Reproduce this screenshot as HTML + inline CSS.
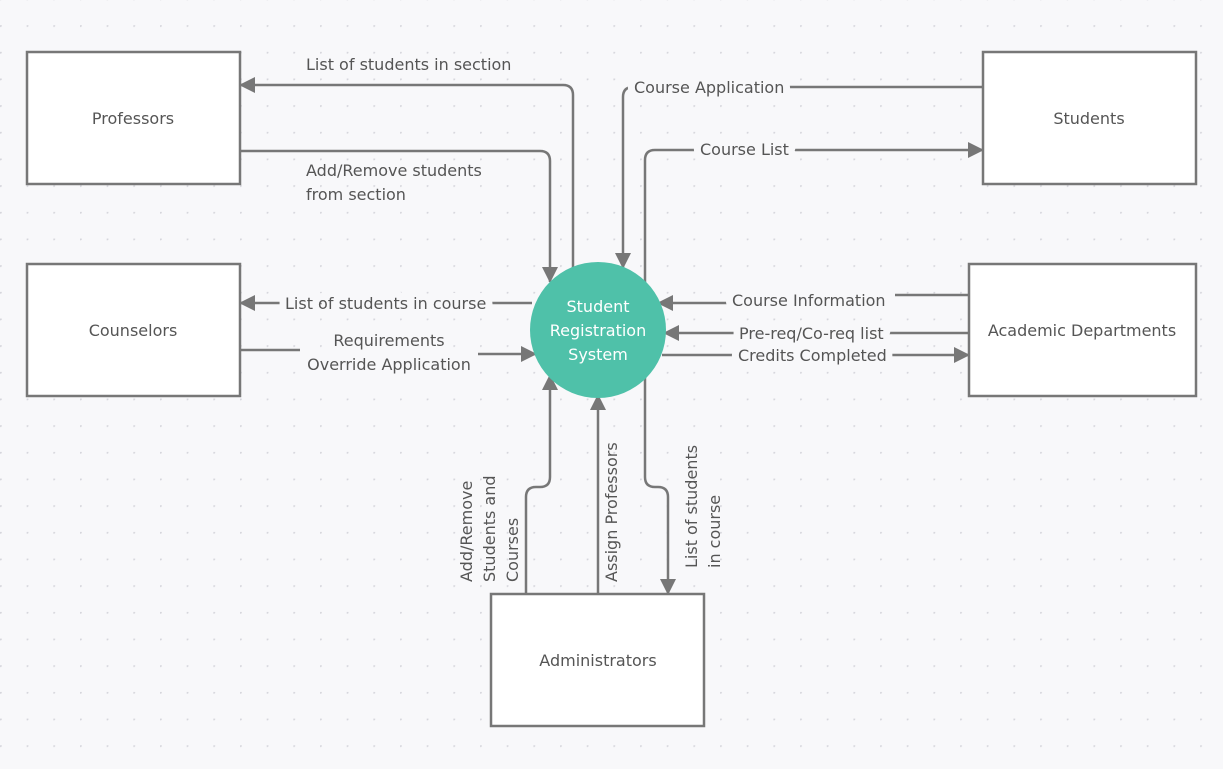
<!DOCTYPE html>
<html><head><meta charset="utf-8"><style>
html,body{margin:0;padding:0;background:#f8f8fa}
svg{display:block}
text{font-family:"DejaVu Sans","Liberation Sans",sans-serif;font-size:16px;fill:#555}
.h{stroke:#f8f8fa;stroke-width:14px;paint-order:stroke;stroke-linejoin:round}
</style></head><body>
<svg width="1223" height="769" viewBox="0 0 1223 769" xmlns="http://www.w3.org/2000/svg">
<defs>
<pattern id="dots" x="0" y="-1.5" width="26.67" height="26.67" patternUnits="userSpaceOnUse">
<circle cx="0.5" cy="0.5" r="1.3" fill="#d6d6dc"/>
</pattern>
<marker id="a" viewBox="0 0 16 16" refX="15" refY="8" markerWidth="16" markerHeight="16" orient="auto" markerUnits="userSpaceOnUse">
<path d="M0,0 L16,8 L0,16 z" fill="#777"/>
</marker>
</defs>
<rect width="1223" height="769" fill="#f8f8fa"/>
<rect width="1223" height="769" fill="url(#dots)"/>

<g fill="none" stroke="#777" stroke-width="2.5">
<path d="M573,268 V95 Q573,85 563,85 H240" marker-end="url(#a)"/>
<path d="M238,151 H540 Q550,151 550,161 V282" marker-end="url(#a)"/>
<path d="M983,87 H633 Q623,87 623,97 V268" marker-end="url(#a)"/>
<path d="M645,282 V160 Q645,150 655,150 H983" marker-end="url(#a)"/>
<path d="M532,303 H240" marker-end="url(#a)"/>
<path d="M240,350 H300"/>
<path d="M478,354 H536" marker-end="url(#a)"/>
<path d="M969,295 H895"/>
<path d="M730,303 H658" marker-end="url(#a)"/>
<path d="M969,333 H664" marker-end="url(#a)"/>
<path d="M662,355 H969" marker-end="url(#a)"/>
<path d="M526,594 V497 Q526,487 536,487 H540 Q550,487 550,477 V375" marker-end="url(#a)"/>
<path d="M598,594 V395" marker-end="url(#a)"/>
<path d="M645,375 V477 Q645,487 655,487 H658 Q668,487 668,497 V594" marker-end="url(#a)"/>
</g>

<g fill="#fff" stroke="#777" stroke-width="2.5">
<rect x="27" y="52" width="213" height="132"/>
<rect x="983" y="52" width="213" height="132"/>
<rect x="27" y="264" width="213" height="132"/>
<rect x="969" y="264" width="227" height="132"/>
<rect x="491" y="594" width="213" height="132"/>
</g>
<circle cx="598" cy="330" r="68" fill="#4fc1a9"/>

<g text-anchor="middle">
<text x="133" y="124">Professors</text>
<text x="1089" y="124">Students</text>
<text x="133" y="336">Counselors</text>
<text x="1082" y="336">Academic Departments</text>
<text x="598" y="666">Administrators</text>
<text x="598" y="312" style="fill:#fff">Student</text>
<text x="598" y="336" style="fill:#fff">Registration</text>
<text x="598" y="360" style="fill:#fff">System</text>
<text class="h" x="389" y="346">Requirements</text>
<text class="h" x="389" y="370">Override Application</text>
</g>
<text x="306" y="70">List of students in section</text>
<text x="306" y="176">Add/Remove students</text>
<text x="306" y="200">from section</text>
<text class="h" x="634" y="93">Course Application</text>
<text class="h" x="700" y="155">Course List</text>
<text class="h" x="285" y="309">List of students in course</text>
<text class="h" x="732" y="306">Course Information</text>
<text class="h" x="739" y="339">Pre-req/Co-req list</text>
<text class="h" x="738" y="361">Credits Completed</text>
<text transform="translate(472,582) rotate(-90)">Add/Remove</text>
<text transform="translate(495,582) rotate(-90)">Students and</text>
<text transform="translate(518,582) rotate(-90)">Courses</text>
<text transform="translate(617,582) rotate(-90)">Assign Professors</text>
<text transform="translate(697,568) rotate(-90)">List of students</text>
<text transform="translate(720,568) rotate(-90)">in course</text>
</svg>
</body></html>
